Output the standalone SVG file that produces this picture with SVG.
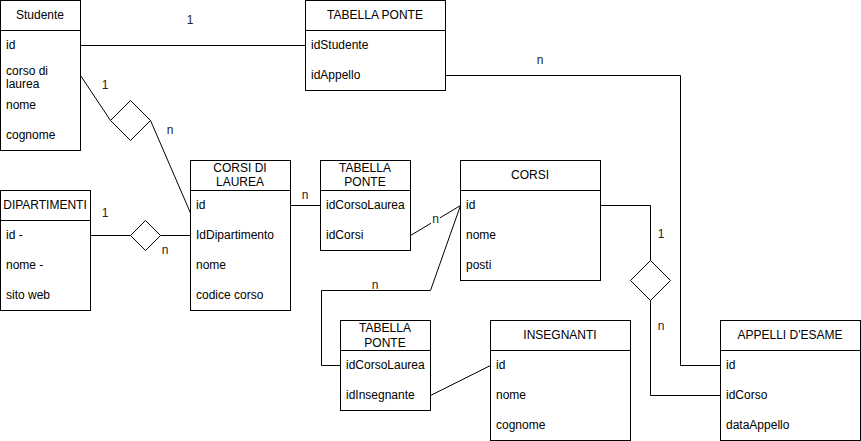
<svg xmlns="http://www.w3.org/2000/svg" width="861" height="441" viewBox="0 0 861 441">
<style>
.box{fill:#fff;stroke:#000;stroke-width:1}
.ln{fill:none;stroke:#000;stroke-width:1}
text{font-family:"Liberation Sans",Arial,sans-serif;font-size:12px;fill:#000}
.c{text-anchor:middle}
.lbl{fill:#222}
</style>
<rect x="0" y="0" width="861" height="441" fill="#fff"/>
<g id="connectors">
<path class="ln" d="M80.5,45.5 H305.5"/>
<path class="ln" d="M445.5,75.5 H680.5 V365.5 H720.5"/>
<path class="ln" d="M80.5,75.5 L110.5,120.5"/>
<path class="ln" d="M150.5,120.5 L190.5,213"/>
<path class="ln" d="M90.5,235.5 H130.5"/>
<path class="ln" d="M160.5,235.5 H190.5"/>
<path class="ln" d="M290.5,205.5 H320.5"/>
<path class="ln" d="M410.5,235.5 L460.5,205.5"/>
<path class="ln" d="M460.5,205.5 L430.5,290.5 H321.5 V365.5 H340.5"/>
<path class="ln" d="M430.5,395.5 L490.5,365.5"/>
<path class="ln" d="M600.5,205.5 H650.5 V260.5"/>
<path class="ln" d="M650.5,300.5 V395.5 H720.5"/>
<path class="box" d="M110.5,120.5 L130.5,100.5 L150.5,120.5 L130.5,140.5 Z"/>
<path class="box" d="M130.5,235.5 L145.5,220.5 L160.5,235.5 L145.5,250.5 Z"/>
<path class="box" d="M630.5,280.5 L650.5,260.5 L670.5,280.5 L650.5,300.5 Z"/>
<text class="lbl c" x="190" y="24">1</text>
<text class="lbl c" x="540" y="64">n</text>
<text class="lbl c" x="105" y="89">1</text>
<text class="lbl c" x="170" y="134">n</text>
<text class="lbl c" x="105" y="217">1</text>
<text class="lbl c" x="165" y="254">n</text>
<text class="lbl c" x="305" y="199">n</text>
<rect x="431" y="213" width="9" height="12" fill="#fff"/>
<text class="lbl c" x="435.5" y="223">n</text>
<text class="lbl c" x="375" y="289">n</text>
<text class="lbl c" x="661" y="238">1</text>
<text class="lbl c" x="661" y="330">n</text>
</g>
<g id="studente">
<rect class="box" x="0.5" y="0.5" width="80" height="150"/>
<path class="ln" d="M0.5,30.5 H80.5"/>
<text class="c" x="40" y="19">Studente</text>
<text x="6" y="49">id</text>
<text x="6" y="75">corso di</text>
<text x="6" y="88">laurea</text>
<text x="6" y="109">nome</text>
<text x="6" y="139">cognome</text>
</g>
<g id="tabella-ponte-1">
<rect class="box" x="305.5" y="0.5" width="140" height="90"/>
<path class="ln" d="M305.5,30.5 H445.5"/>
<text class="c" x="375" y="19">TABELLA PONTE</text>
<text x="311" y="49">idStudente</text>
<text x="311" y="79">idAppello</text>
</g>
<g id="dipartimenti">
<rect class="box" x="0.5" y="190.5" width="90" height="120"/>
<path class="ln" d="M0.5,220.5 H90.5"/>
<text class="c" x="45" y="209">DIPARTIMENTI</text>
<text x="6" y="239">id -</text>
<text x="6" y="269">nome -</text>
<text x="6" y="299">sito web</text>
</g>
<g id="corsi-di-laurea">
<rect class="box" x="190.5" y="160.5" width="100" height="150"/>
<path class="ln" d="M190.5,190.5 H290.5"/>
<text class="c" x="240" y="172">CORSI DI</text>
<text class="c" x="240" y="186">LAUREA</text>
<text x="196" y="209">id</text>
<text x="196" y="239">IdDipartimento</text>
<text x="196" y="269">nome</text>
<text x="196" y="299">codice corso</text>
</g>
<g id="tabella-ponte-2">
<rect class="box" x="320.5" y="160.5" width="90" height="90"/>
<path class="ln" d="M320.5,190.5 H410.5"/>
<text class="c" x="365" y="172">TABELLA</text>
<text class="c" x="365" y="186">PONTE</text>
<text x="326" y="209">idCorsoLaurea</text>
<text x="326" y="239">idCorsi</text>
</g>
<g id="corsi">
<rect class="box" x="460.5" y="160.5" width="140" height="120"/>
<path class="ln" d="M460.5,190.5 H600.5"/>
<text class="c" x="530" y="179">CORSI</text>
<text x="466" y="209">id</text>
<text x="466" y="239">nome</text>
<text x="466" y="269">posti</text>
</g>
<g id="tabella-ponte-3">
<rect class="box" x="340.5" y="320.5" width="90" height="90"/>
<path class="ln" d="M340.5,350.5 H430.5"/>
<text class="c" x="385" y="332">TABELLA</text>
<text class="c" x="385" y="347">PONTE</text>
<text x="346" y="369">idCorsoLaurea</text>
<text x="346" y="399">idInsegnante</text>
</g>
<g id="insegnanti">
<rect class="box" x="490.5" y="320.5" width="140" height="120"/>
<path class="ln" d="M490.5,350.5 H630.5"/>
<text class="c" x="560" y="339">INSEGNANTI</text>
<text x="496" y="369">id</text>
<text x="496" y="399">nome</text>
<text x="496" y="429">cognome</text>
</g>
<g id="appelli-d-esame">
<rect class="box" x="720.5" y="320.5" width="140" height="120"/>
<path class="ln" d="M720.5,350.5 H860.5"/>
<text class="c" x="790" y="339">APPELLI D'ESAME</text>
<text x="726" y="369">id</text>
<text x="726" y="399">idCorso</text>
<text x="726" y="429">dataAppello</text>
</g>
</svg>
